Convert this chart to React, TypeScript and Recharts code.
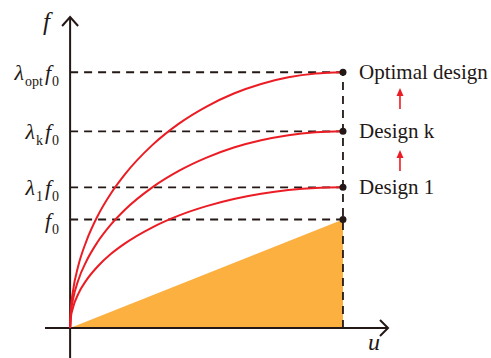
import React from "react";
import {
  ComposedChart,
  Line,
  Area,
  XAxis,
  YAxis,
  ReferenceLine,
  ReferenceDot,
} from "recharts";

// displacement samples shared by the three response curves
const uGrid = [0, 0.003, 0.01, 0.03, 0.06, 0.1, 0.15, 0.2, 0.3, 0.4, 0.5, 0.6, 0.7, 0.8, 0.9, 1];

// force (in units of f0) for each design
const optF = [0, 0.182, 0.332, 0.573, 0.804, 1.028, 1.242, 1.414, 1.683, 1.886, 2.041, 2.161, 2.249, 2.31, 2.345, 2.357];
const kF = [0, 0.14, 0.256, 0.441, 0.618, 0.79, 0.955, 1.088, 1.294, 1.45, 1.57, 1.663, 1.73, 1.777, 1.804, 1.813];
const oneF = [0, 0.1, 0.183, 0.315, 0.442, 0.565, 0.684, 0.778, 0.926, 1.038, 1.123, 1.189, 1.237, 1.271, 1.291, 1.297];

// baseline design C0 (linear)
const baseU = [0, 1];
const baseF = [0, 1];

const levels = [1, 1.297, 1.813, 2.357];
const leftSubs = ["", "1", "k", "opt"];
const designNames = ["Design 1", "Design k", "Optimal design"];
const arrowLevels = [1.539, 2.11];

const uDomain = [-0.092, 1.165];
const fDomain = [-0.276, 2.866];

const toRows = (us: number[], fs: number[]) => us.map((u, i) => ({ u, f: fs[i] }));

const INK = "#231815";
const RED = "#ec1c24";
const ORANGE = "#fbb040";
const FONT = "'Liberation Serif', 'Times New Roman', serif";

const LeftLabel = (sub: string) => (p: any) => (
  <text x={p.cx - 11} y={p.cy + 8} textAnchor="end" fontFamily={FONT} fill={INK} fontSize={22}>
    {sub ? <tspan fontStyle="italic">λ</tspan> : null}
    {sub ? (
      <tspan fontSize={14} dy={6} dx={1}>
        {sub}
      </tspan>
    ) : null}
    <tspan fontStyle="italic" dy={sub ? -6 : 0} dx={sub ? 2 : 0}>
      f
    </tspan>
    <tspan fontSize={14} dy={6} dx={1}>
      0
    </tspan>
  </text>
);

const RightLabel = (name: string) => (p: any) => (
  <text x={p.cx + 16} y={p.cy + 7} fontFamily={FONT} fill={INK} fontSize={21}>
    {name}
  </text>
);

const UpArrow = (p: any) => {
  const x = p.cx + 57;
  return (
    <g>
      <line x1={x} y1={p.cy + 10} x2={x} y2={p.cy - 4} stroke={RED} strokeWidth={1.6} />
      <path d={`M${x - 3.5},${p.cy - 3} L${x},${p.cy - 11} L${x + 3.5},${p.cy - 3} Z`} fill={RED} />
    </g>
  );
};

const ArrowUp = (p: any) => (
  <path
    d={`M${p.cx - 8},${p.cy + 9} L${p.cx},${p.cy} L${p.cx + 8},${p.cy + 9}`}
    fill="none"
    stroke={INK}
    strokeWidth={2}
  />
);

const ArrowRight = (p: any) => (
  <path
    d={`M${p.cx - 8},${p.cy - 8} L${p.cx},${p.cy} L${p.cx - 8},${p.cy + 8}`}
    fill="none"
    stroke={INK}
    strokeWidth={2}
  />
);

export default function App() {
  return (
    <div style={{ position: "absolute", left: 0, top: 0, background: "#fff" }}>
      <ComposedChart
        width={491}
        height={358}
        margin={{ top: 17, right: 103, bottom: 0, left: 45 }}
      >
        <XAxis type="number" dataKey="u" domain={uDomain} allowDataOverflow hide />
        <YAxis type="number" dataKey="f" domain={fDomain} allowDataOverflow hide />

        <Area
          data={toRows(baseU, baseF)}
          dataKey="f"
          type="linear"
          fill={ORANGE}
          fillOpacity={1}
          stroke="none"
          isAnimationActive={false}
        />

        {levels.map((lv) => (
          <ReferenceLine
            key={`h-${lv}`}
            segment={[
              { x: 0, y: lv },
              { x: 1, y: lv },
            ]}
            stroke={INK}
            strokeWidth={1.8}
            strokeDasharray="8 6"
          />
        ))}
        <ReferenceLine
          segment={[
            { x: 1, y: 0 },
            { x: 1, y: levels[3] },
          ]}
          stroke={INK}
          strokeWidth={1.8}
          strokeDasharray="8 6"
        />

        <ReferenceLine x={0} stroke={INK} strokeWidth={2} />
        <ReferenceLine y={0} stroke={INK} strokeWidth={2} />
        <ReferenceDot x={0} y={fDomain[1]} ifOverflow="visible" shape={ArrowUp} />
        <ReferenceDot x={uDomain[1]} y={0} ifOverflow="visible" shape={ArrowRight} />

        <Line data={toRows(uGrid, oneF)} dataKey="f" type="monotone" stroke={RED} strokeWidth={2} dot={false} isAnimationActive={false} />
        <Line data={toRows(uGrid, kF)} dataKey="f" type="monotone" stroke={RED} strokeWidth={2} dot={false} isAnimationActive={false} />
        <Line data={toRows(uGrid, optF)} dataKey="f" type="monotone" stroke={RED} strokeWidth={2} dot={false} isAnimationActive={false} />

        {levels.map((lv) => (
          <ReferenceDot key={`d-${lv}`} x={1} y={lv} r={3.5} fill={INK} stroke="none" ifOverflow="visible" />
        ))}
        {levels.map((lv, i) => (
          <ReferenceDot key={`l-${lv}`} x={0} y={lv} ifOverflow="visible" shape={LeftLabel(leftSubs[i])} />
        ))}
        {designNames.map((name, i) => (
          <ReferenceDot key={`r-${name}`} x={1} y={levels[i + 1]} ifOverflow="visible" shape={RightLabel(name)} />
        ))}
        {arrowLevels.map((lv) => (
          <ReferenceDot key={`a-${lv}`} x={1} y={lv} ifOverflow="visible" shape={UpArrow} />
        ))}

        <text x={256} y={299} fontFamily={FONT} fontStyle="italic" fontSize={26} fill={INK}>
          C
          <tspan fontStyle="normal" fontSize={17} dy={6}>
            0
          </tspan>
        </text>
        <text x={43} y={30} fontFamily={FONT} fontStyle="italic" fontSize={25} fill={INK}>
          f
        </text>
        <text x={368} y={350} fontFamily={FONT} fontStyle="italic" fontSize={24} fill={INK}>
          u
        </text>
      </ComposedChart>
    </div>
  );
}
